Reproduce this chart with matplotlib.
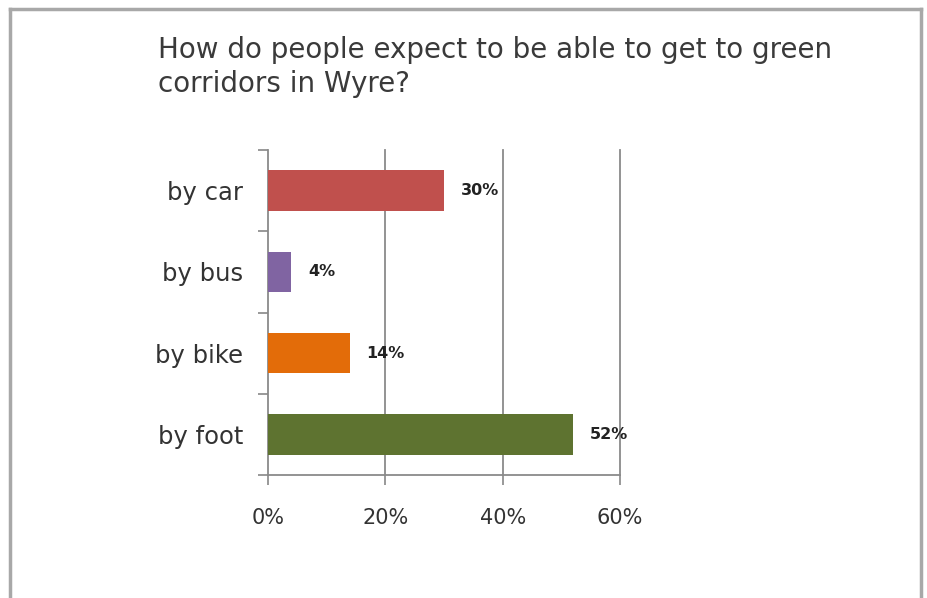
import numpy as np
import matplotlib.pyplot as plt
from matplotlib.lines import Line2D

# 数据
categories = ['by car', 'by bus', 'by bike', 'by foot']
values = [30, 4, 14, 52]
labels = ['30%', '4%', '14%', '52%']
colors = ['#C0504D', '#8064A2', '#E36C09', '#5E7330']
xticks = [0, 20, 40, 60]
xticklabels = ['0%', '20%', '40%', '60%']
title = 'How do people expect to be able to get to green\ncorridors in Wyre?'

plt.rcParams['font.family'] = ['DejaVu Sans']
W, H = 928, 598
fig = plt.figure(figsize=(W/100, H/100), dpi=100)
ax = fig.add_axes([268/W, 1-475/H, 352/W, 325/H])

y = np.arange(len(categories))
ax.barh(y, values, height=0.5, color=colors, zorder=3)
for yi, v, lab in zip(y, values, labels):
    ax.text(v + 2.8, yi, lab, va='center', ha='left', fontsize=11.5,
            fontweight='bold', color='#222222', zorder=4)

ax.set_ylim(len(categories)-0.5, -0.5)
ax.set_yticks(np.arange(len(categories)+1) - 0.5, minor=False)
ax.set_yticklabels([])
ax.set_yticks(y, minor=True)
ax.set_yticklabels(categories, minor=True, fontsize=17.5, color='#333333')
ax.tick_params(axis='y', which='major', length=7, width=1.2, color='#888888', direction='out')
ax.tick_params(axis='y', which='minor', length=0, pad=18)

ax.set_xlim(0, 60)
ax.set_xticks(xticks)
ax.set_xticklabels(xticklabels, fontsize=15, color='#333333')
ax.tick_params(axis='x', length=7, width=1.2, color='#888888', pad=17)
for t in xticks[1:]:
    ax.axvline(t, color='#8a8a8a', lw=1.3, zorder=0, clip_on=False)
for s in ['top', 'right']:
    ax.spines[s].set_visible(False)
for s in ['left', 'bottom']:
    ax.spines[s].set_color('#8a8a8a')
    ax.spines[s].set_linewidth(1.3)

fig.text(158/W, 1-36/H, title, fontsize=20, color='#3a3a3a',
         ha='left', va='top', linespacing=1.25)

# 外框
frame = dict(color='#a8a8a8', lw=2.5, transform=fig.transFigure)
fig.add_artist(Line2D([10/W, 921/W], [1-9/H, 1-9/H], **frame))
fig.add_artist(Line2D([10/W, 10/W], [0, 1-9/H], **frame))
fig.add_artist(Line2D([921/W, 921/W], [0, 1-9/H], **frame))

fig.savefig('out.png', dpi=100)
